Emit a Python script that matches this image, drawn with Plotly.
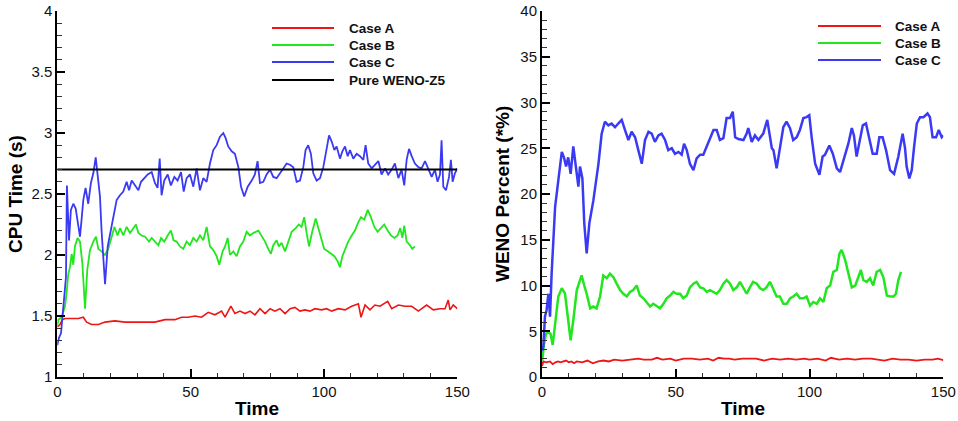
import plotly.graph_objects as go

# ---------------- Left panel: CPU time ----------------
a_left_t = [0, 1, 1.9, 2.9, 5.4, 7.9, 9.75, 11, 12.9, 15.4, 17.9, 21.6, 25.4, 29.1, 32.9, 36.6,
            40.4, 44.1, 46.6, 49.1, 51.6, 54.1, 56.6, 59.1, 61.6, 62.9, 65.1, 66.6, 68.5, 70.4,
            72.3, 74.1, 76, 77.9, 79.8, 81.6, 83.5, 85.4, 87.3, 89.1, 91, 92.9, 94.75, 96.6,
            99.1, 101, 102.9, 105.4, 107.9, 110.4, 112.9, 113.9, 115.4, 117.25, 119.1, 121,
            123.9, 125.4, 127.9, 130.4, 132.9, 135.4, 138.5, 141, 143.5, 145.4, 146.6, 147.25,
            148.5, 150]
a_left_v = [1.41, 1.43, 1.47, 1.48, 1.48, 1.48, 1.49, 1.45, 1.43, 1.43, 1.45, 1.46, 1.45, 1.45,
            1.45, 1.45, 1.47, 1.47, 1.49, 1.49, 1.50, 1.49, 1.53, 1.51, 1.54, 1.49, 1.58, 1.52,
            1.54, 1.52, 1.54, 1.51, 1.56, 1.52, 1.56, 1.54, 1.56, 1.52, 1.56, 1.57, 1.54, 1.55,
            1.54, 1.56, 1.55, 1.56, 1.54, 1.56, 1.55, 1.58, 1.60, 1.49, 1.59, 1.55, 1.59, 1.58,
            1.62, 1.56, 1.59, 1.58, 1.58, 1.54, 1.59, 1.55, 1.56, 1.56, 1.63, 1.55, 1.59, 1.56]

b_left_t = [0, 0.4, 1.6, 2.9, 3.5, 4.1, 4.75, 5.4, 6, 6.6, 7.6, 8.5, 9.4, 10.4, 11.25, 12.25,
            13.5, 14.5, 15.4, 16.6, 17.9, 19.1, 20.4, 21.4, 22.6, 23.5, 24.75, 26, 27.25, 28.5,
            29.5, 30.4, 31.6, 32.9, 34.4, 35.4, 36.6, 37.9, 38.9, 40.1, 41.4, 42.6, 43.6, 44.75,
            46, 47.25, 48.5, 49.75, 51, 52.25, 53.5, 54.75, 56, 57.25, 58.5, 59.75, 60.75, 62,
            62.9, 63.9, 64.75, 66, 67.25, 68.5, 69.75, 71, 72.25, 73.5, 75.4, 76.6, 77.9, 79.1,
            80.1, 81, 82.25, 83.1, 84.1, 85.4, 86.6, 87.9, 89.4, 90.6, 91.6, 92.6, 93.5, 94.4,
            95.6, 96.9, 97.9, 98.9, 100.1, 101.4, 102.6, 103.9, 105.1, 106, 106.9, 107.9, 109.1,
            110.4, 111.6, 112.9, 113.9, 115.1, 116.4, 117.6, 118.9, 120.1, 121.4, 122.6, 123.9,
            125.1, 126.4, 127.6, 128.6, 129.4, 130.1, 131, 132.25, 133.1, 134.1]
b_left_v = [1.42, 1.47, 1.49, 1.58, 1.69, 1.84, 1.90, 2.01, 1.92, 2.07, 2.14, 2.11, 1.93, 1.56,
            1.88, 2.04, 2.11, 2.15, 2.05, 2.03, 2.00, 2.05, 2.15, 2.23, 2.16, 2.22, 2.16, 2.23,
            2.18, 2.22, 2.25, 2.18, 2.16, 2.15, 2.11, 2.14, 2.11, 2.08, 2.14, 2.11, 2.16, 2.20,
            2.12, 2.11, 2.07, 2.05, 2.11, 2.08, 2.14, 2.11, 2.16, 2.12, 2.23, 2.07, 2.04, 1.99,
            1.92, 2.03, 2.07, 2.14, 2.00, 2.03, 1.99, 2.07, 2.11, 2.19, 2.16, 2.18, 2.20, 2.16,
            2.11, 2.05, 2.01, 2.08, 2.12, 2.07, 2.10, 2.03, 2.11, 2.19, 2.22, 2.25, 2.23, 2.31,
            2.18, 2.07, 2.19, 2.30, 2.22, 2.15, 2.05, 2.03, 2.01, 1.99, 1.95, 1.90, 1.99, 2.05,
            2.11, 2.16, 2.20, 2.27, 2.31, 2.29, 2.37, 2.31, 2.23, 2.19, 2.22, 2.25, 2.20, 2.16,
            2.14, 2.16, 2.22, 2.14, 2.24, 2.11, 2.08, 2.05, 2.07]

c_left_t = [0, 0.6, 1.4, 1.9, 2.6, 3.25, 3.6, 3.9, 4.4, 5.1, 6, 6.9, 7.9, 8.5, 9.1, 9.75, 10.6,
            11.6, 12.6, 13.5, 14.4, 15.1, 16, 16.6, 17.25, 17.9, 18.9, 20.1, 21.4, 22.25, 23.5,
            24.75, 26, 26.9, 27.9, 29.1, 30.4, 31.4, 32.6, 33.9, 35.4, 36.6, 37.6, 38.4, 39.1,
            40.1, 41.4, 42.6, 43.9, 45.1, 46.4, 47.4, 48.5, 49.75, 51, 52.25, 53.5, 54.75, 56,
            57.25, 58.5, 59.75, 61, 62.25, 63.1, 64.1, 65.4, 66.6, 67.9, 68.9, 70.1, 71.4, 72.9,
            74.1, 75.1, 76, 77.25, 78.5, 79.75, 81, 82.25, 83.5, 84.75, 86, 87.25, 88.5, 89.75,
            91, 92.25, 93.1, 94.1, 95.1, 96, 97.25, 98.5, 99.75, 101, 101.9, 102.9, 103.9,
            104.75, 106, 106.9, 107.9, 108.9, 109.75, 111, 112.25, 113.5, 114.75, 115.6, 116.6,
            117.9, 119.1, 120.4, 121.6, 122.9, 124.1, 125.4, 126.6, 127.9, 129.1, 130.1, 131,
            131.9, 132.9, 134.1, 135.4, 136.6, 137.9, 139.1, 140.4, 141.6, 142.6, 143.5, 144.1,
            144.75, 145.75, 146.9, 147.6, 148.25, 149.1, 150]
c_left_v = [1.26, 1.32, 1.36, 1.49, 1.66, 1.82, 2.57, 2.37, 2.12, 2.37, 2.42, 2.38, 2.23, 2.15,
            2.29, 2.45, 2.55, 2.42, 2.59, 2.67, 2.80, 2.64, 2.48, 2.20, 1.96, 1.76, 2.07, 2.20,
            2.34, 2.45, 2.49, 2.52, 2.60, 2.53, 2.61, 2.57, 2.53, 2.60, 2.63, 2.66, 2.68, 2.59,
            2.55, 2.79, 2.49, 2.61, 2.66, 2.57, 2.64, 2.61, 2.68, 2.52, 2.63, 2.66, 2.56, 2.71,
            2.53, 2.63, 2.60, 2.75, 2.86, 2.90, 2.97, 3.00, 2.96, 2.89, 2.85, 2.83, 2.72, 2.56,
            2.48, 2.56, 2.61, 2.66, 2.77, 2.59, 2.60, 2.66, 2.70, 2.64, 2.63, 2.67, 2.71, 2.75,
            2.74, 2.72, 2.60, 2.61, 2.72, 2.86, 2.90, 2.83, 2.67, 2.61, 2.63, 2.72, 2.87, 2.98,
            2.93, 2.86, 2.89, 2.79, 2.85, 2.89, 2.81, 2.86, 2.79, 2.83, 2.81, 2.78, 2.90, 2.75,
            2.71, 2.74, 2.77, 2.66, 2.71, 2.66, 2.70, 2.75, 2.63, 2.70, 2.57, 2.78, 2.87, 2.81,
            2.75, 2.72, 2.71, 2.77, 2.70, 2.64, 2.70, 2.60, 2.66, 2.94, 2.56, 2.53, 2.64, 2.78,
            2.60, 2.67, 2.71]

weno_t = [0, 150]
weno_v = [2.70, 2.70]

# ---------------- Right panel: WENO percent ----------------
a_right_t = [0, 0.5, 1.5, 3, 4, 5, 6, 7, 8, 9, 10, 11, 12, 13, 15, 17, 19, 21, 23, 25, 27, 30,
             33, 36, 38, 41, 43, 45, 48, 50, 53, 56, 59, 62, 64, 66, 68, 70, 72, 75, 78, 80, 83,
             86, 89, 92, 95, 98, 100, 103, 106, 108, 111, 114, 117, 120, 123, 126, 128, 131, 134,
             137, 140, 143, 146, 148, 150]
a_right_v = [1.2, 1.7, 1.6, 1.7, 1.4, 1.6, 1.7, 1.6, 1.7, 1.8, 1.6, 1.7, 1.5, 1.7, 1.6, 1.8, 1.5,
             1.7, 1.8, 1.7, 1.9, 1.8, 1.9, 2.0, 1.9, 1.9, 2.1, 1.9, 2.0, 1.8, 2.0, 2.0, 1.9, 2.0,
             1.8, 2.1, 2.0, 2.0, 1.9, 2.0, 2.0, 2.0, 1.8, 2.0, 1.9, 2.0, 1.9, 2.0, 1.9, 2.0, 1.8,
             2.1, 1.9, 2.0, 1.9, 2.0, 2.0, 1.9, 1.8, 2.0, 1.9, 1.9, 1.8, 1.9, 1.9, 2.0, 1.85]

b_right_t = [0, 0.25, 0.75, 1.5, 2.4, 3.2, 4.0, 4.9, 6.1, 7.4, 8.6, 9.8, 10.7, 11.7, 13.0, 14.0,
             14.8, 15.8, 16.7, 18.0, 19.2, 20.4, 21.7, 22.9, 24.2, 25.4, 26.7, 27.9, 29.2, 30.4,
             31.7, 32.9, 34.1, 35.4, 36.6, 37.9, 39.1, 40.4, 41.6, 42.9, 44.1, 45.4, 46.6, 47.9,
             49.1, 50.3, 51.6, 52.8, 54.1, 55.3, 56.6, 57.8, 59.1, 60.3, 61.6, 62.8, 64.1, 65.3,
             66.5, 67.8, 69.0, 70.3, 71.5, 72.8, 74.0, 75.3, 76.5, 77.7, 78.9, 80.3, 81.5, 82.7,
             83.9, 85.2, 86.5, 87.7, 88.9, 90.2, 91.5, 92.7, 93.9, 95.2, 96.4, 97.7, 98.9, 100.2,
             101.4, 102.7, 103.9, 105.2, 106.4, 107.7, 108.9, 110.2, 111.2, 112.0, 113.3, 114.5,
             115.8, 117.1, 118.4, 119.2, 120.1, 121.4, 122.6, 123.8, 125.1, 126.4, 127.6, 128.9,
             130.1, 131.4, 132.3, 133.2, 134.2]
b_right_v = [1.8, 2.2, 3.6, 4.7, 4.9, 4.7, 3.5, 5.8, 8.8, 9.7, 9.1, 6.2, 4.0, 6.2, 9.5, 10.4,
             11.1, 10.0, 9.1, 7.5, 7.7, 7.5, 8.8, 11.1, 10.8, 11.3, 10.9, 10.2, 9.5, 9.1, 8.8, 9.3,
             9.5, 10.0, 8.9, 8.6, 8.2, 7.7, 8.0, 7.7, 7.5, 8.0, 8.6, 8.9, 9.3, 9.1, 9.1, 8.6, 8.9,
             9.8, 10.2, 10.4, 9.8, 9.7, 9.3, 9.5, 9.3, 9.1, 9.5, 10.2, 10.6, 10.2, 9.5, 9.8, 10.4,
             9.8, 9.1, 9.8, 10.4, 10.2, 9.7, 9.5, 9.8, 10.4, 9.5, 8.8, 8.8, 8.0, 8.0, 8.6, 8.8,
             9.1, 8.6, 8.6, 8.8, 7.8, 8.2, 8.0, 8.6, 8.2, 9.7, 10.0, 11.5, 11.7, 13.5, 13.9, 12.8,
             11.5, 9.8, 10.0, 11.1, 11.7, 10.6, 10.4, 10.8, 10.0, 11.5, 11.7, 10.9, 8.9, 8.8, 8.8,
             9.1, 10.6, 11.5]

c_right_t = [0, 0.5, 1.1, 1.7, 2.4, 3.0, 3.6, 4.2, 4.9, 6.1, 7.4, 8.2, 9.0, 9.8, 10.7, 11.7,
             12.7, 13.6, 14.2, 15.1, 15.8, 16.7, 17.7, 19.2, 21.1, 22.3, 23.5, 24.8, 26.0, 27.3,
             28.5, 29.8, 31.0, 32.3, 33.5, 34.8, 36.0, 37.3, 38.5, 39.8, 41.0, 42.2, 43.5, 44.7,
             46.0, 47.2, 48.5, 49.7, 51.0, 52.2, 53.1, 54.1, 55.3, 56.6, 57.8, 59.1, 60.3, 61.6,
             62.8, 64.1, 65.3, 66.5, 67.8, 69.0, 70.3, 71.3, 72.2, 73.4, 75.3, 76.5, 77.1, 78.4,
             79.6, 80.9, 82.7, 84.2, 85.9, 86.5, 87.7, 88.9, 90.2, 91.4, 92.7, 93.9, 95.2, 96.4,
             97.7, 98.9, 99.9, 100.8, 102.1, 103.7, 104.9, 105.8, 107.4, 108.7, 110.2, 111.4,
             113.3, 114.5, 115.8, 116.6, 117.6, 118.6, 119.9, 121.1, 122.6, 123.6, 125.1, 126.1,
             127.3, 128.6, 130.1, 131.6, 133.2, 134.8, 135.7, 136.3, 137.3, 138.2, 139.1, 140.1,
             141.3, 142.6, 144.1, 145.0, 146.0, 147.3, 148.3, 149.4, 150]
c_right_v = [2.9, 3.3, 6.6, 7.3, 9.1, 6.6, 11.3, 15.0, 18.6, 21.5, 24.6, 24.0, 23.0, 24.0, 22.2,
             25.2, 23.0, 20.8, 23.0, 21.7, 16.8, 13.5, 16.8, 19.3, 23.3, 26.6, 27.9, 27.5, 27.7,
             27.3, 27.7, 28.1, 27.0, 25.9, 26.8, 26.2, 24.8, 23.3, 25.9, 26.8, 26.6, 25.7, 26.4,
             26.6, 25.9, 24.8, 25.0, 24.4, 24.6, 24.3, 25.5, 24.8, 23.3, 22.6, 23.9, 24.3, 24.3,
             25.2, 26.2, 27.0, 27.0, 25.9, 26.1, 28.3, 28.3, 29.0, 26.2, 26.0, 25.9, 26.6, 27.2,
             25.7, 26.4, 25.9, 26.6, 28.1, 25.0, 24.8, 22.8, 24.8, 27.3, 27.9, 27.2, 25.9, 26.2,
             27.0, 28.3, 28.4, 28.6, 26.2, 23.3, 22.1, 24.1, 24.3, 25.3, 24.4, 22.8, 22.4, 24.4,
             25.5, 27.2, 26.4, 24.1, 25.5, 27.5, 27.7, 25.9, 24.4, 24.4, 26.2, 26.2, 24.8, 22.6,
             22.2, 24.1, 26.6, 25.0, 23.0, 21.7, 22.6, 25.2, 27.7, 28.4, 28.4, 28.8, 28.4, 26.2,
             26.2, 27.0, 26.2, 26.4]

legend_left = ["Case A", "Case B", "Case C", "Pure WENO-Z5"]
legend_right = ["Case A", "Case B", "Case C"]

RED, GREEN, BLUE, BLACK = "#ee1515", "#22e61e", "#3a3af5", "#000000"
FONT = "Liberation Sans, Arial, Helvetica, sans-serif"

fig = go.Figure()
fig.add_trace(go.Scatter(x=a_left_t, y=a_left_v, mode="lines", line=dict(color=RED, width=1.6),
                         name="Case A", xaxis="x", yaxis="y", showlegend=False))
fig.add_trace(go.Scatter(x=b_left_t, y=b_left_v, mode="lines", line=dict(color=GREEN, width=1.8),
                         name="Case B", xaxis="x", yaxis="y", showlegend=False))
fig.add_trace(go.Scatter(x=c_left_t, y=c_left_v, mode="lines", line=dict(color=BLUE, width=1.8),
                         name="Case C", xaxis="x", yaxis="y", showlegend=False))
fig.add_trace(go.Scatter(x=weno_t, y=weno_v, mode="lines", line=dict(color=BLACK, width=2),
                         name="Pure WENO-Z5", xaxis="x", yaxis="y", showlegend=False))

fig.add_trace(go.Scatter(x=a_right_t, y=a_right_v, mode="lines", line=dict(color=RED, width=1.8),
                         name="Case A", xaxis="x2", yaxis="y2", showlegend=False))
fig.add_trace(go.Scatter(x=b_right_t, y=b_right_v, mode="lines", line=dict(color=GREEN, width=2.5),
                         name="Case B", xaxis="x2", yaxis="y2", showlegend=False))
fig.add_trace(go.Scatter(x=c_right_t, y=c_right_v, mode="lines", line=dict(color=BLUE, width=2.5),
                         name="Case C", xaxis="x2", yaxis="y2", showlegend=False))

W, H = 958, 421
MT, MB = 11, 44
PH = H - MT - MB


def px_x(p):
    return p / W


def px_y(p):
    return (H - MB - p) / PH


axis_common = dict(showline=True, linecolor="black", linewidth=2, mirror=False, showgrid=False,
                   zeroline=False, ticks="inside", ticklen=8, tickwidth=2, tickcolor="black",
                   tickfont=dict(family=FONT, size=15, color="#111"), automargin=False,
                   fixedrange=True)

fig.update_layout(
    width=W, height=H, margin=dict(l=0, r=0, t=MT, b=MB),
    paper_bgcolor="white", plot_bgcolor="white",
    xaxis=dict(domain=[px_x(57.3), px_x(457.3)], range=[0, 150], dtick=50, anchor="y",
               minor=dict(dtick=10, ticks="inside", ticklen=4.5, tickwidth=1, tickcolor="#333"),
               **axis_common),
    yaxis=dict(domain=[0, 1], range=[1, 4], dtick=0.5, anchor="x",
               minor=dict(dtick=0.1, ticks="inside", ticklen=4.5, tickwidth=1, tickcolor="#333"),
               **axis_common),
    xaxis2=dict(domain=[px_x(542), px_x(943.3)], range=[0, 150], dtick=50, anchor="y2",
                minor=dict(dtick=10, ticks="inside", ticklen=4.5, tickwidth=1, tickcolor="#333"),
                **axis_common),
    yaxis2=dict(domain=[0, 1], range=[0, 40], dtick=5, anchor="x2",
                minor=dict(dtick=1, ticks="inside", ticklen=4.5, tickwidth=1, tickcolor="#333"),
                **axis_common),
)

title_font = dict(family=FONT, size=19, color="black", weight="bold")
annotations = [
    dict(text="CPU Time (s)", x=px_x(15), y=0.5, xref="paper", yref="paper", textangle=-90,
         showarrow=False, font=title_font, xanchor="center", yanchor="middle"),
    dict(text="Time", x=px_x(257.3), y=px_y(408), xref="paper", yref="paper",
         showarrow=False, font=title_font, xanchor="center", yanchor="middle"),
    dict(text="WENO Percent (*%)", x=px_x(502), y=0.5, xref="paper", yref="paper", textangle=-90,
         showarrow=False, font=title_font, xanchor="center", yanchor="middle"),
    dict(text="Time", x=px_x(742.6), y=px_y(408), xref="paper", yref="paper",
         showarrow=False, font=title_font, xanchor="center", yanchor="middle"),
]
shapes = []
leg_font = dict(family=FONT, size=13.5, color="#111", weight="bold")
left_rows = [28, 45, 62, 80]
left_cols = [RED, GREEN, BLUE, BLACK]
for name, row, col in zip(legend_left, left_rows, left_cols):
    shapes.append(dict(type="line", xref="paper", yref="paper", x0=px_x(272), x1=px_x(334),
                       y0=px_y(row), y1=px_y(row), line=dict(color=col, width=2)))
    annotations.append(dict(text=name, x=px_x(347), y=px_y(row), xref="paper", yref="paper",
                            showarrow=False, font=leg_font, xanchor="left", yanchor="middle"))
right_rows = [26, 43, 60]
right_cols = [RED, GREEN, BLUE]
for name, row, col in zip(legend_right, right_rows, right_cols):
    shapes.append(dict(type="line", xref="paper", yref="paper", x0=px_x(818), x1=px_x(881),
                       y0=px_y(row), y1=px_y(row), line=dict(color=col, width=2)))
    annotations.append(dict(text=name, x=px_x(893), y=px_y(row), xref="paper", yref="paper",
                            showarrow=False, font=leg_font, xanchor="left", yanchor="middle"))

fig.update_layout(annotations=annotations, shapes=shapes)
fig.write_html("out.html", config={"displayModeBar": False})
